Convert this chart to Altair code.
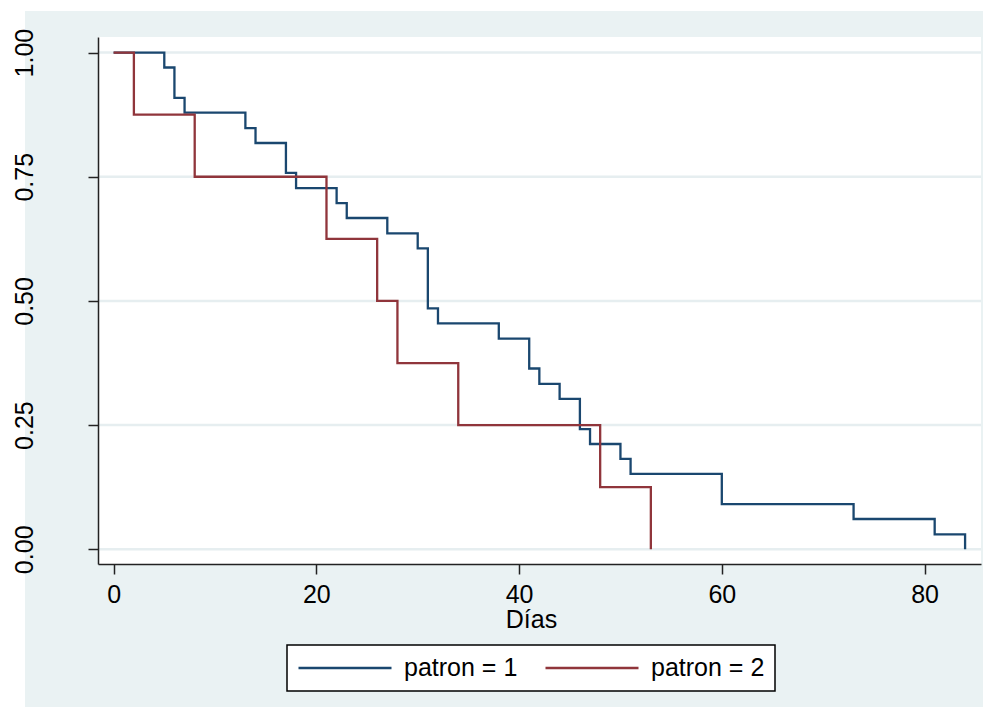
import altair as alt
import pandas as pd

# Kaplan-Meier survival estimates
t1 = [0, 5, 6, 7, 13, 14, 17, 18, 22, 23, 27, 30, 31, 32, 38, 41, 42, 44, 46, 47, 50, 51, 60, 73, 81, 84]
s1 = [1.000, 0.970, 0.909, 0.879, 0.848, 0.818, 0.758, 0.727, 0.697, 0.667, 0.636, 0.606, 0.485,
      0.455, 0.424, 0.364, 0.333, 0.303, 0.242, 0.212, 0.182, 0.152, 0.091, 0.061, 0.030, 0.000]
t2 = [0, 2, 8, 21, 26, 28, 34, 48, 53]
s2 = [1.000, 0.875, 0.750, 0.625, 0.500, 0.375, 0.250, 0.125, 0.000]
groups = ["patron = 1", "patron = 2"]
colors = ["#1A476F", "#90353B"]
x_ticks = [0, 20, 40, 60, 80]
y_ticks = [0.0, 0.25, 0.5, 0.75, 1.0]

df = pd.DataFrame({
    "t": t1 + t2,
    "s": s1 + s2,
    "g": [groups[0]] * len(t1) + [groups[1]] * len(t2),
})

W, H = 883, 527
PAD_L, PAD_T, PAD_R, PAD_B = 90, 29, 2, 143
FONT = "Liberation Sans"
AX = "#222222"

xscale = alt.Scale(domain=[-1.54, 85.57], nice=False, zero=False)
yscale = alt.Scale(domain=[-0.0296, 1.0314], nice=False, zero=False)

xaxis = alt.Axis(values=x_ticks, title="Días", format="d", grid=False,
                 tickSize=10, tickWidth=1.5, tickColor=AX,
                 domainColor=AX, domainWidth=1.5,
                 labelFont=FONT, labelFontSize=25, labelColor="black",
                 labelBaseline="alphabetic", labelPadding=28,
                 labelFlush=False, labelOverlap=False,
                 titleFont=FONT, titleFontSize=25, titleFontWeight="normal",
                 titleColor="black", titleBaseline="alphabetic",
                 titleAlign="center", titleX=433, titleY=63, zindex=1)

yaxis = alt.Axis(values=y_ticks, title=None, format=".2f", grid=False,
                 tickSize=10, tickWidth=1.5, tickColor=AX,
                 domainColor=AX, domainWidth=1.5,
                 labelFont=FONT, labelFontSize=25, labelColor="black",
                 labelAngle=270, labelAlign="center", labelBaseline="alphabetic",
                 labelPadding=56, labelFlush=False, labelOverlap=False, zindex=1)

legend = alt.Legend(title=None, orient="none", legendX=189, legendY=608,
                    direction="horizontal", symbolType="stroke",
                    symbolSize=8649, symbolStrokeWidth=2.3, clipHeight=26,
                    labelFont=FONT, labelFontSize=25, labelColor="black",
                    labelOffset=11, columnPadding=26, padding=10,
                    strokeColor="black", fillColor="white", cornerRadius=0,
                    labelLimit=400)

one = pd.DataFrame({"k": [0]})
outer = alt.Chart(one).mark_rect(color="#EAF2F3").encode(
    x=alt.value(-73), x2=alt.value(W + PAD_R), y=alt.value(-26), y2=alt.value(H + PAD_B))
inner = alt.Chart(one).mark_rect(color="white").encode(
    x=alt.value(0), x2=alt.value(W), y=alt.value(0), y2=alt.value(H))

ygrid = alt.Y("v:Q", scale=yscale, axis=yaxis)
grid = alt.Chart(pd.DataFrame({"v": y_ticks})).mark_rule(
    color="#E6EEF0", strokeWidth=2.5).encode(y=ygrid)

lines = alt.Chart(df).mark_line(interpolate="step-after", strokeWidth=2.3).encode(
    x=alt.X("t:Q", scale=xscale, axis=xaxis),
    y=alt.Y("s:Q", scale=yscale, axis=yaxis),
    color=alt.Color("g:N", scale=alt.Scale(domain=groups, range=colors), legend=legend),
)

chart = alt.layer(outer, inner, grid, lines).properties(
    width=W, height=H,
    padding={"left": PAD_L, "top": PAD_T, "right": PAD_R, "bottom": PAD_B},
    autosize=alt.AutoSizeParams(type="none"),
    background="white",
).configure_view(strokeWidth=0).configure_legend(strokeWidth=1.5)

chart.save("out.html", embed_options={"renderer": "svg", "actions": False})
